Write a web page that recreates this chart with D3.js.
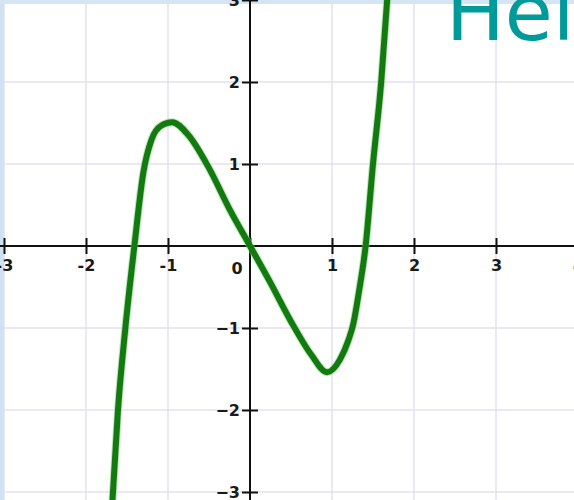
<!DOCTYPE html>
<html>
<head>
<meta charset="utf-8">
<script src="https://cdn.jsdelivr.net/npm/d3@7"></script>
<style>
  html, body { margin: 0; padding: 0; background: #fff; }
  svg { display: block; }
</style>
</head>
<body>
<div class="js-canvas"></div>
<script>
'use strict';

// points (x, y in graph units)
const curveX = [-1.68, -1.61, -1.52, -1.41, -1.30, -1.20, -1.08, -0.95, -0.75, -0.50, -0.25, 0, 0.25, 0.50, 0.75, 0.94, 1.10, 1.20, 1.26, 1.33, 1.41, 1.50, 1.60, 1.68];
const curveY = [-3.15, -2, -1, 0, 0.9, 1.3, 1.47, 1.51, 1.35, 0.95, 0.45, 0, -0.45, -0.92, -1.33, -1.54, -1.38, -1.15, -0.95, -0.55, 0, 1, 2, 3.1];

const xTicks = [-3, -2, -1, 0, 1, 2, 3, 4];
const yTicks = [-3, -2, -1, 1, 2, 3];
const gridX = [-3, -2, -1, 1, 2, 3, 4];
const gridY = [-3, -2, -1, 1, 2, 3];
const titleText = 'Hello';

const config = {
    width: 574,
    height: 500,
    labelFont: '"DejaVu Sans", sans-serif'
};

const svg = d3.select('.js-canvas')
    .append('svg')
    .attr('width', config.width)
    .attr('height', config.height)
    ;

const x = d3.scaleLinear()
    .domain([-3, 4])
    .range([4, 578])
    ;

const y = d3.scaleLinear()
    .domain([-3, 3])
    .range([492, 0])
    ;

// grid
svg.append('g').selectAll('line')
    .data(gridX)
    .enter().append('line')
    .attr('x1', d => x(d)).attr('x2', d => x(d))
    .attr('y1', 0).attr('y2', config.height)
    .attr('stroke', '#e4e0f0')
    .attr('stroke-width', 1.5)
    ;

svg.append('g').selectAll('line')
    .data(gridY)
    .enter().append('line')
    .attr('x1', 0).attr('x2', config.width)
    .attr('y1', d => y(d)).attr('y2', d => y(d))
    .attr('stroke', '#e4e0f0')
    .attr('stroke-width', 1.5)
    ;

// pale blue frame edges
svg.append('rect')
    .attr('x', 0).attr('y', 0)
    .attr('width', 4).attr('height', config.height)
    .attr('fill', '#cfe1f3');
svg.append('rect')
    .attr('x', 0).attr('y', 0)
    .attr('width', config.width).attr('height', 4)
    .attr('fill', '#d6e5f4');

// axes
const xAxis = d3.axisBottom(x)
    .tickValues(xTicks)
    .tickFormat(d => d === 0 ? '' : d)
    .tickSize(8)
    .tickPadding(6)
    ;

const yAxis = d3.axisLeft(y)
    .tickValues(yTicks)
    .tickFormat(d3.format('d'))
    .tickSize(8)
    .tickPadding(2)
    ;

const xAxisGroup = svg.append('g')
    .attr('transform', `translate(0, ${y(0)})`)
    .call(xAxis);

const yAxisGroup = svg.append('g')
    .attr('transform', `translate(${x(0)}, 0)`)
    .call(yAxis);

[xAxisGroup, yAxisGroup].forEach(g => {
    g.select('.domain').remove();
    g.selectAll('line').attr('stroke', '#111').attr('stroke-width', 2);
    g.selectAll('text')
        .attr('fill', '#1a1a1a')
        .style('font-family', config.labelFont)
        .style('font-size', '16px')
        .style('font-weight', 'bold');
});

xAxisGroup.selectAll('.tick line').attr('y1', -8).attr('y2', 8);
yAxisGroup.selectAll('.tick line').attr('x1', -8).attr('x2', 8);

// origin label sits left of the y axis
svg.append('text')
    .attr('x', x(0) - 13)
    .attr('y', y(0) + 28)
    .attr('text-anchor', 'middle')
    .attr('fill', '#1a1a1a')
    .style('font-family', config.labelFont)
    .style('font-size', '16px')
    .style('font-weight', 'bold')
    .text('0');

// main lines
svg.append('line')
    .attr('x1', 0).attr('x2', config.width)
    .attr('y1', y(0)).attr('y2', y(0))
    .attr('stroke', '#111').attr('stroke-width', 2);
svg.append('line')
    .attr('x1', x(0)).attr('x2', x(0))
    .attr('y1', 0).attr('y2', config.height)
    .attr('stroke', '#111').attr('stroke-width', 2);

// curve
const points = curveX.map((d, i) => [d, curveY[i]]);
const line = d3.line()
    .x(d => x(d[0]))
    .y(d => y(d[1]))
    .curve(d3.curveMonotoneX)
    ;

svg.append('path')
    .datum(points)
    .attr('d', line)
    .attr('fill', 'none')
    .attr('stroke', '#7fcf6f')
    .attr('stroke-opacity', 0.5)
    .attr('stroke-width', 8)
    ;

svg.append('path')
    .datum(points)
    .attr('d', line)
    .attr('fill', 'none')
    .attr('stroke', '#137a12')
    .attr('stroke-width', 6)
    .attr('stroke-linejoin', 'round')
    ;

// title text cut by the top edge
svg.append('text')
    .attr('x', 446)
    .attr('y', 40)
    .attr('fill', '#009a9a')
    .style('font-family', '"DejaVu Sans", sans-serif')
    .style('font-size', '78px')
    .text(titleText);
</script>
</body>
</html>
